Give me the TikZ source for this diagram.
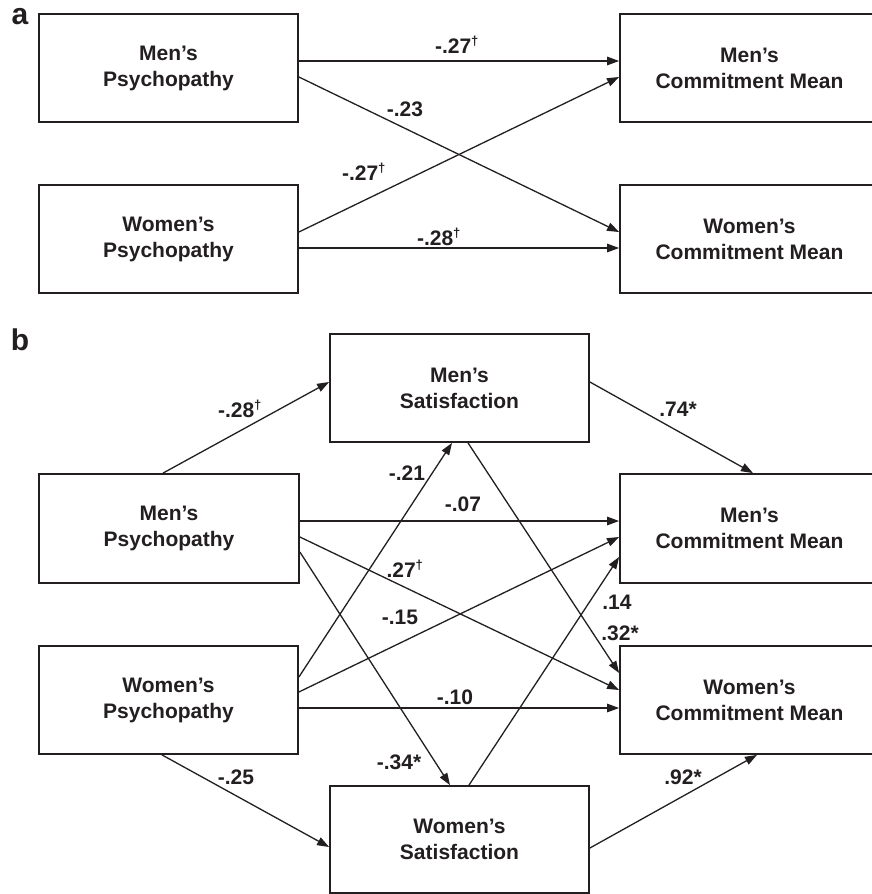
\documentclass[tikz,border=0pt]{standalone}
\usepackage{fontspec}
\setmainfont{Liberation Sans}
\usetikzlibrary{arrows.meta,calc}
\definecolor{ink}{RGB}{35,31,32}
\newcommand{\mydag}{\textsuperscript{\fontsize{13}{13}\selectfont †}}
\begin{document}
\begin{tikzpicture}[x=1pt,y=-1pt,
 box/.style={draw=ink,line width=1.8pt,minimum width=259pt,minimum height=108pt,inner sep=0pt,align=center,font=\fontsize{21}{26}\selectfont\bfseries,text=ink},
 conn/.style={draw=ink,line width=1.3pt,-{Triangle[length=12pt,width=8.5pt]}},
 lab/.style={font=\fontsize{21}{24}\selectfont\bfseries,text=ink,inner sep=0pt},
 panel/.style={font=\fontsize{30}{30}\selectfont\bfseries,text=ink,inner sep=0pt}]
\useasboundingbox (0,0) rectangle (871,894);
\fill[white] (0,0) rectangle (871,894);
% panel labels
\node[panel] (pa) at (20,17) {a};
\node[panel] (pb) at (20,340) {b};
% panel a boxes
\node[box] (mpa) at (168.5,68) {Men’s\\Psychopathy};
\node[box] (wpa) at (168.5,239) {Women’s\\Psychopathy};
\node[box] (mca) at (749.5,68) {Men’s\\Commitment Mean};
\node[box] (wca) at (749.5,239) {Women’s\\Commitment Mean};
% panel a arrows
\draw[conn] ($(mpa.east)+(0,-7)$) -- ($(mca.west)+(0,-7)$);
\draw[conn] ($(mpa.east)+(0,9)$) -- ($(wca.west)+(0,-7)$);
\draw[conn] ($(wpa.east)+(0,-7)$) -- ($(mca.west)+(0,9)$);
\draw[conn] ($(wpa.east)+(0,9)$) -- ($(wca.west)+(0,9)$);
% panel a labels
\node[lab] (la1) at (457,45) {-.27\mydag};
\node[lab] (la2) at (405,109) {-.23};
\node[lab] (la3) at (364,172) {-.27\mydag};
\node[lab] (la4) at (439,237) {-.28\mydag};
% panel b boxes
\node[box,minimum width=260pt,minimum height=109pt] (mpb) at (169,528.5) {Men’s\\Psychopathy};
\node[box] (wpb) at (168.5,700) {Women’s\\Psychopathy};
\node[box] (msb) at (459.5,388) {Men’s\\Satisfaction};
\node[box,minimum height=107pt] (wsb) at (459.5,839.5) {Women’s\\Satisfaction};
\node[box,minimum height=109pt] (mcb) at (749.5,528.5) {Men’s\\Commitment Mean};
\node[box] (wcb) at (749.5,700) {Women’s\\Commitment Mean};
% panel b arrows
\draw[conn] ($(mpb.north)+(-6,0)$) -- ($(msb.west)+(0,-6)$);
\draw[conn] ($(msb.east)+(0,-6)$) -- ($(mcb.north)+(3.5,0)$);
\draw[conn] ($(mpb.east)+(0,-7.5)$) -- ($(mcb.west)+(0,-7.5)$);
\draw[conn] ($(mpb.east)+(0,8.5)$) -- ($(wcb.west)+(0,-10)$);
\draw[conn] ($(mpb.east)+(0,23.5)$) -- ($(wsb.north)+(-9.5,0)$);
\draw[conn] ($(wpb.east)+(0,-23)$) -- ($(msb.south)+(-7.5,0)$);
\draw[conn] ($(wpb.east)+(0,-8)$) -- ($(mcb.west)+(0,8.5)$);
\draw[conn] ($(wpb.east)+(0,8)$) -- ($(wcb.west)+(0,8)$);
\draw[conn] ($(wpb.south)+(-6.5,0)$) -- ($(wsb.west)+(0,7.5)$);
\draw[conn] ($(wsb.east)+(0,8.5)$) -- ($(wcb.south)+(7.5,0)$);
\draw[conn] ($(wsb.north)+(9.5,0)$) -- ($(mcb.west)+(0,28.5)$);
\draw[conn] ($(msb.south)+(8.5,0)$) -- ($(wcb.west)+(0,-27)$);
% panel b labels
\node[lab] (lb1) at (240,409) {-.28\mydag};
\node[lab] (lb2) at (678,409) {.74*};
\node[lab] (lb3) at (407,473) {-.21};
\node[lab] (lb4) at (463,504) {-.07};
\node[lab] (lb5) at (405,569) {.27\mydag};
\node[lab] (lb6) at (400,617) {-.15};
\node[lab] (lb7) at (617,602) {.14};
\node[lab] (lb8) at (620,633) {.32*};
\node[lab] (lb9) at (455,697) {-.10};
\node[lab] (lb10) at (399,762) {-.34*};
\node[lab] (lb11) at (236,777) {-.25};
\node[lab] (lb12) at (683,777) {.92*};
\end{tikzpicture}
\end{document}
